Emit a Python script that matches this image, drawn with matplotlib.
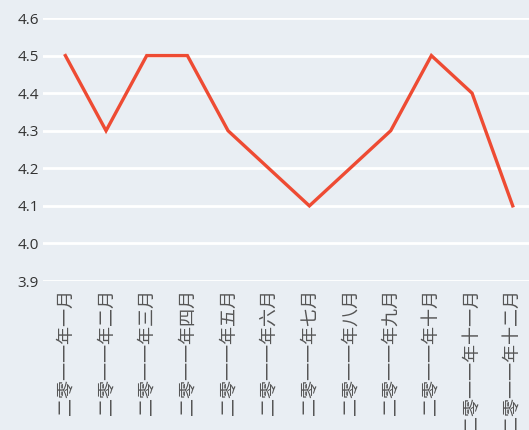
import numpy as np
import matplotlib.pyplot as plt

plt.rcParams['font.family'] = ['Noto Sans CJK SC', 'DejaVu Sans']

months = ['二零一一年一月', '二零一一年二月', '二零一一年三月', '二零一一年四月',
          '二零一一年五月', '二零一一年六月', '二零一一年七月', '二零一一年八月',
          '二零一一年九月', '二零一一年十月', '二零一一年十一月', '二零一一年十二月']
values = [4.5, 4.3, 4.5, 4.5, 4.3, 4.2, 4.1, 4.2, 4.3, 4.5, 4.4, 4.1]
yticks = [3.9, 4.0, 4.1, 4.2, 4.3, 4.4, 4.5, 4.6]

bg = '#e9eef3'
fig = plt.figure(figsize=(5.29, 4.30), dpi=100, facecolor=bg)
ax = fig.add_axes([0.0813, 0.3465, 0.9187, 0.6116], facecolor=bg)

x = np.arange(len(months))
ax.plot(x, values, color='#ee4b33', lw=2.4, solid_joinstyle='miter', zorder=3)

ax.set_ylim(3.9, 4.6)
ax.set_yticks(yticks)
ax.set_yticklabels(['%.1f' % v for v in yticks], family=['Open Sans', 'DejaVu Sans'])
ax.set_xlim(-0.55, 11.4)
ax.set_xticks(x)
ax.set_xticklabels(months, rotation=90, va='top', ha='center', fontsize=13, color='#555555')
ax.grid(axis='y', color='white', lw=2)
ax.set_axisbelow(True)
for s in ax.spines.values():
    s.set_visible(False)
ax.tick_params(length=0, pad=6)
ax.tick_params(axis='y', labelsize=11, labelcolor='#333333', pad=3)

fig.savefig('out.png', dpi=100, facecolor=bg)
